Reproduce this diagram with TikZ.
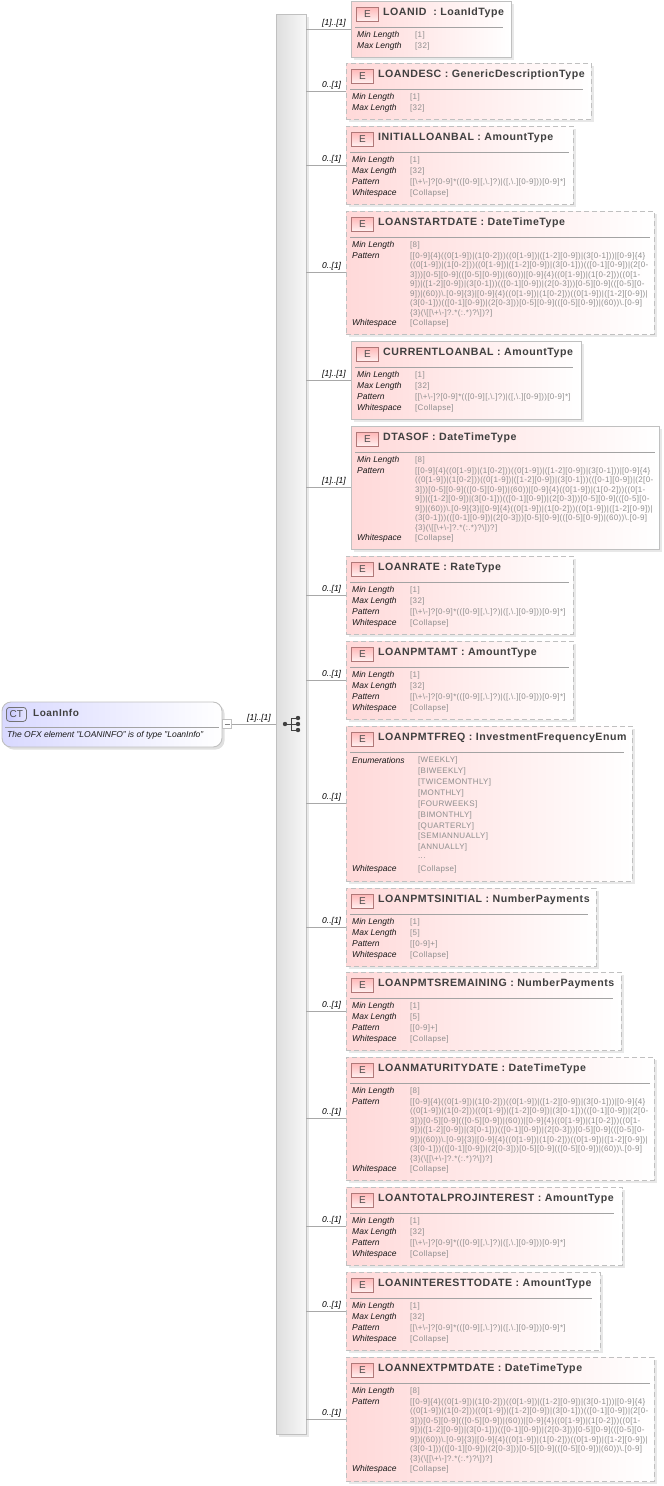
\documentclass[tikz,border=0pt]{standalone}
\usepackage{fontspec}
\setmainfont{Liberation Sans}
\newfontfamily\ttlfont[LetterSpace=5]{Liberation Sans}
\newfontfamily\valfont[LetterSpace=4]{Liberation Sans}
\usetikzlibrary{calc,shadows}
\definecolor{txtgray}{HTML}{8E8E8E}
\definecolor{edgegray}{HTML}{C0C0C0}
\definecolor{pinkfill}{HTML}{FFD9D9}
\definecolor{pinkmid}{HTML}{FFF0F0}
\definecolor{connc}{HTML}{A8A8A8}
\definecolor{badgeedge}{HTML}{B07878}
\newcounter{nn}
\tikzset{
  boxbase/.style={draw=edgegray,line width=.9pt,anchor=north west,inner sep=0pt,outer sep=0pt,
    left color=pinkfill,middle color=pinkmid,right color=white,drop shadow={shadow xshift=2.5pt,shadow yshift=-2.5pt,opacity=.09,fill=black}},
  solidbox/.style={boxbase},
  dashbox/.style={boxbase,dash pattern=on 5pt off 3pt},
  ttl/.style={anchor=west,inner sep=0pt,font=\ttlfont\bfseries\fontsize{10.6}{12}\selectfont,text=black!75},
  lbl/.style={anchor=west,inner sep=0pt,font=\itshape\fontsize{8.5}{10}\selectfont,text=black!90},
  val/.style={anchor=west,inner sep=0pt,font=\valfont\fontsize{8}{9}\selectfont,text=txtgray},
  mult/.style={anchor=west,inner sep=0pt,font=\itshape\fontsize{8.5}{10}\selectfont,text=black},
  conn/.style={draw=connc,line width=.8pt},
  ebadge/.style={draw=badgeedge,line width=.9pt,anchor=north west,inner sep=0pt,minimum width=22pt,minimum height=14pt,
    top color=pinkfill!85!red,bottom color=pinkfill!35,font=\fontsize{10}{12}\selectfont,text=black!70},
  seqdot/.style={circle,fill=black!75,inner sep=0pt,minimum size=4.4pt},
}
% [right inset] name, l, t, r, b, style, title
\newcommand\elbox[8][8]{%
  \def\bl{#3}\def\bt{#4}\def\br{#5}%
  \node[#7,minimum width={(#5-#3)*1pt},minimum height={(#6-#4)*1pt}] (#2) at (#3,#4) {};
  \draw[conn] (bar.east |- #2.west) -- (#2.west);
  \node[ebadge] (#2badge) at ({#3+5},{#4+6}) {E};
  \node[ttl] (#2title) at ({#3+32},{#4+12}) {#8};
  \draw[edgegray!85!black,line width=.8pt] ({#3+4},{#4+26}) -- ({#5-#1},{#4+26});
}
\newcommand\mlt[2]{\node[mult] (#1mult) at ($(bar.east |- #1.west)+(16,-6)$) {#2};}
\newcommand\rw[3]{%
  \stepcounter{nn}\node[lbl] (l\arabic{nn}) at ({\bl+6},{\bt+#1+1}) {#2};
  \node[val] (v\arabic{nn}) at ({\bl+64},{\bt+#1+1}) {#3};}
\newcommand\vl[3][64]{%
  \stepcounter{nn}\node[val] (v\arabic{nn}) at ({\bl+#1},{\bt+#2+1}) {#3};}
\newcommand\lenpair[2]{\rw{33.5}{Min Length}{[#1]}\rw{44.5}{Max Length}{[#2]}}
\newcommand\fourrows[3]{\lenpair{#1}{#2}\rw{55}{Pattern}{#3}\rw{66}{Whitespace}{[Collapse]}}
\newcommand\amtpat{[[\textbackslash+\textbackslash-]?[0-9]*(([0-9][,\textbackslash.]?)|([,\textbackslash.][0-9]))[0-9]*]}
\newcommand\datepat{%
  \rw{33.5}{Min Length}{[8]}
  \rw{44}{Pattern}{[[0-9]\{4\}((0[1-9])|(1[0-2]))((0[1-9])|([1-2][0-9])|(3[0-1]))|[0-9]\{4\}}
  \vl{53.5}{((0[1-9])|(1[0-2]))((0[1-9])|([1-2][0-9])|(3[0-1]))(([0-1][0-9])|(2[0-}
  \vl{63}{3]))[0-5][0-9](([0-5][0-9])|(60))|[0-9]\{4\}((0[1-9])|(1[0-2]))((0[1-}
  \vl{72.5}{9])|([1-2][0-9])|(3[0-1]))(([0-1][0-9])|(2[0-3]))[0-5][0-9](([0-5][0-}
  \vl{82}{9])|(60))\textbackslash.[0-9]\{3\}|[0-9]\{4\}((0[1-9])|(1[0-2]))((0[1-9])|([1-2][0-9])|}
  \vl{91.5}{(3[0-1]))(([0-1][0-9])|(2[0-3]))[0-5][0-9](([0-5][0-9])|(60))\textbackslash.[0-9]}
  \vl{101}{\{3\}(\textbackslash[[\textbackslash+\textbackslash-]?.*(:.*)?\textbackslash])?]}
  \rw{111.5}{Whitespace}{[Collapse]}}
\begin{document}
\begin{tikzpicture}[x=1pt,y=-1pt]
\useasboundingbox (0,0) rectangle (664,1486);
% sequence bar
\node[draw=edgegray,line width=.9pt,anchor=north west,inner sep=0,outer sep=0,minimum width=30pt,minimum height=1420pt,
  left color=black!13,right color=black!3,drop shadow={shadow xshift=2.5pt,shadow yshift=-2.5pt,opacity=.09,fill=black}] (bar) at (276,14) {};
% root
\node[draw=edgegray,line width=.9pt,anchor=north west,inner sep=0,outer sep=0,minimum width=220pt,minimum height=45pt,rounded corners=9pt,
  left color=blue!15!white,right color=white,drop shadow={shadow xshift=2.5pt,shadow yshift=-2.5pt,opacity=.12,fill=black}] (root) at (2,702) {};
\node[draw=black!55,line width=.8pt,rounded corners=3pt,anchor=north west,inner sep=0,minimum width=20pt,minimum height=14pt,
  left color=blue!22!white,right color=blue!10!white,font=\fontsize{10}{12}\selectfont,text=black!70] (ctbadge) at (6,707) {CT};
\node[ttl,font=\ttlfont\bfseries\fontsize{10}{12}\selectfont] (roottitle) at (33,713) {LoanInfo};
\draw[edgegray!85!black,line width=.8pt] (5,727) -- (219,727);
\node[lbl] (rootdesc) at (7,735) {The OFX element "LOANINFO" is of type "LoanInfo"};
\node[draw=edgegray,fill=white,line width=.8pt,inner sep=0,outer sep=0,minimum size=9pt] (minus) at (227,724) {};
\draw[black!50,line width=.7pt] (224.5,724) -- (229.5,724);
\draw[conn] (minus.east) -- (minus.east -| bar.west);
\node[mult] (rootmult) at (247,718) {[1]..[1]};
% sequence icon
\node[seqdot] (sa) at (285,724) {};
\node[seqdot] (sb) at (298,718) {};
\node[seqdot] (sc) at (298,724) {};
\node[seqdot] (sd) at (298,730) {};
\coordinate (sj) at (291,724);
\draw[black!75,line width=.9pt] (sa) -- (sc);
\draw[black!75,line width=.9pt] (sb) -- (sb -| sj) -- (sd -| sj) -- (sd);

\elbox{loanid}{351}{1}{511}{57}{solidbox}{LOANID\ \ : LoanIdType}
\mlt{loanid}{[1]..[1]}
\lenpair{1}{32}

\elbox{loandesc}{346}{63}{591}{119}{dashbox}{LOANDESC : GenericDescriptionType}
\mlt{loandesc}{0..[1]}
\lenpair{1}{32}

\elbox[4]{initial}{346}{126}{573}{204}{dashbox}{INITIALLOANBAL : AmountType}
\mlt{initial}{0..[1]}
\fourrows{1}{32}{\amtpat}

\elbox[4]{startdate}{346}{211}{654}{334}{dashbox}{LOANSTARTDATE : DateTimeType}
\mlt{startdate}{0..[1]}
\datepat

\elbox{current}{351}{341}{581}{419}{solidbox}{CURRENTLOANBAL : AmountType}
\mlt{current}{[1]..[1]}
\fourrows{1}{32}{\amtpat}

\elbox[4]{dtasof}{351}{426}{659}{549}{solidbox}{DTASOF : DateTimeType}
\mlt{dtasof}{[1]..[1]}
\datepat

\elbox[4]{rate}{346}{556}{573}{634}{dashbox}{LOANRATE : RateType}
\mlt{rate}{0..[1]}
\fourrows{1}{32}{\amtpat}

\elbox[4]{pmtamt}{346}{641}{573}{719}{dashbox}{LOANPMTAMT : AmountType}
\mlt{pmtamt}{0..[1]}
\fourrows{1}{32}{\amtpat}

\elbox{pmtfreq}{346}{726}{632}{881}{dashbox}{LOANPMTFREQ : InvestmentFrequencyEnum}
\mlt{pmtfreq}{0..[1]}
\stepcounter{nn}\node[lbl] (enlbl) at ({\bl+6},{\bt+34.5}) {Enumerations};
\vl[72]{33.5}{[WEEKLY]}
\vl[72]{44.5}{[BIWEEKLY]}
\vl[72]{55.5}{[TWICEMONTHLY]}
\vl[72]{66}{[MONTHLY]}
\vl[72]{77}{[FOURWEEKS]}
\vl[72]{88}{[BIMONTHLY]}
\vl[72]{99}{[QUARTERLY]}
\vl[72]{109.5}{[SEMIANNUALLY]}
\vl[72]{120.5}{[ANNUALLY]}
\vl[72]{131.5}{...}
\stepcounter{nn}\node[lbl] (wslbl) at ({\bl+6},{\bt+143.5}) {Whitespace};
\vl[72]{142.5}{[Collapse]}

\elbox{pmtsinit}{346}{888}{596}{966}{dashbox}{LOANPMTSINITIAL : NumberPayments}
\mlt{pmtsinit}{0..[1]}
\fourrows{1}{5}{[[0-9]+]}

\elbox{pmtsrem}{346}{972}{621}{1050}{dashbox}{LOANPMTSREMAINING : NumberPayments}
\mlt{pmtsrem}{0..[1]}
\fourrows{1}{5}{[[0-9]+]}

\elbox[4]{maturity}{346}{1057}{654}{1180}{dashbox}{LOANMATURITYDATE : DateTimeType}
\mlt{maturity}{0..[1]}
\datepat

\elbox{totalproj}{346}{1187}{622}{1265}{dashbox}{LOANTOTALPROJINTEREST : AmountType}
\mlt{totalproj}{0..[1]}
\fourrows{1}{32}{\amtpat}

\elbox{inttodate}{346}{1272}{600}{1350}{dashbox}{LOANINTERESTTODATE : AmountType}
\mlt{inttodate}{0..[1]}
\fourrows{1}{32}{\amtpat}

\elbox[4]{nextpmt}{346}{1357}{654}{1481}{dashbox}{LOANNEXTPMTDATE : DateTimeType}
\mlt{nextpmt}{0..[1]}
\datepat
\end{tikzpicture}
\end{document}
